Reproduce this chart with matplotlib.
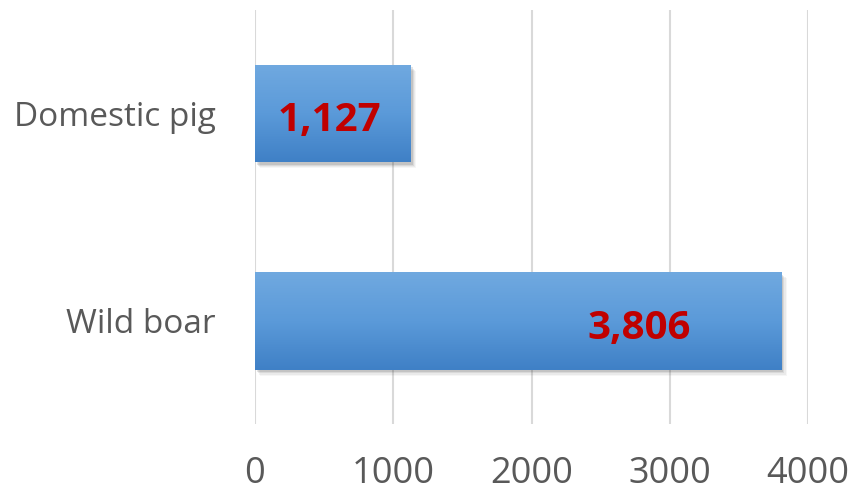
import numpy as np
import matplotlib.pyplot as plt
from matplotlib.patches import Rectangle
from matplotlib.colors import LinearSegmentedColormap

# data
categories = ['Wild boar', 'Domestic pig']
counts = [3806, 1127]
value_labels = ['3,806', '1,127']
label_frac = [0.73, 0.48]   # where the value label sits along the bar
x_ticks = [0, 1000, 2000, 3000, 4000]

plt.rcParams['font.family'] = ['Open Sans', 'DejaVu Sans']

fig = plt.figure(figsize=(8.51, 4.93), dpi=100)
ax = fig.add_axes([0.2996, 0.139, 0.65, 0.841])

bar_h = 0.47
grad = LinearSegmentedColormap.from_list('bar', ['#3F80C6', '#5B9AD9', '#70A9E0'])
g = np.linspace(0, 1, 256).reshape(-1, 1)

for i, (c, v) in enumerate(zip(categories, counts)):
    y0 = i - bar_h / 2
    # soft shadow
    for k, a in enumerate([0.12, 0.09, 0.06, 0.04]):
        dx = 25 + 8 * k
        dy = 0.012 + 0.006 * k
        ax.add_patch(Rectangle((dx - 10, y0 - dy), v, bar_h, facecolor='#303030',
                               edgecolor='none', alpha=a, zorder=2))
    rect = Rectangle((0, y0), v, bar_h, facecolor='none', edgecolor='none', zorder=3)
    ax.add_patch(rect)
    im = ax.imshow(g, cmap=grad, aspect='auto', origin='lower',
                   extent=[0, v, y0, y0 + bar_h], zorder=3)
    im.set_clip_path(rect)
    # label sits a little below the bar centre, as in the original
    ax.text(v * label_frac[i], i - 0.035, value_labels[i], ha='center', va='center',
            color='#C00000', fontsize=29, fontweight='bold', zorder=5)

ax.set_xlim(0, 4000)
ax.set_ylim(-0.5, 1.5)
ax.set_xticks(x_ticks)
ax.set_yticks(range(len(categories)))
ax.set_yticklabels(categories)
ax.tick_params(axis='x', length=0, pad=23, labelsize=26, labelcolor='#595959')
ax.tick_params(axis='y', length=0, pad=28, labelsize=24, labelcolor='#595959')
ax.grid(axis='x', color='#D9D9D9', linewidth=1.5, zorder=0)
ax.set_axisbelow(True)
for s in ax.spines.values():
    s.set_visible(False)

fig.savefig('out.png', dpi=100)
